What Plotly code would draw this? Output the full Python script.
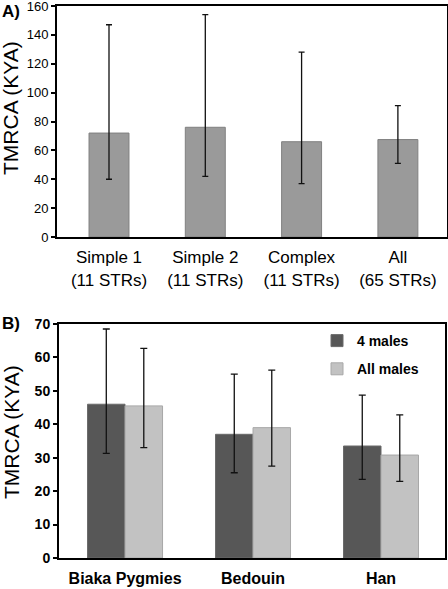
import plotly.graph_objects as go

# Panel A data
cats_a = ["Simple 1<br>(11 STRs)", "Simple 2<br>(11 STRs)", "Complex<br>(11 STRs)", "All<br>(65 STRs)"]
vals_a = [72, 76, 66, 67.5]
lo_a = [40, 42, 37, 51]
hi_a = [147, 154, 128, 91]

# Panel B data
cats_b = ["Biaka Pygmies", "Bedouin", "Han"]
four_males = [46, 37, 33.5]
four_lo = [31.3, 25.5, 23.5]
four_hi = [68.5, 55, 48.7]
all_males = [45.5, 39, 30.8]
all_lo = [33, 27.5, 22.9]
all_hi = [62.7, 56.2, 42.8]

W, H = 448, 589
def px(x):
    return x / W
def py(y):
    return 1 - y / H

FONT = "Liberation Sans, Arial, sans-serif"

fig = go.Figure()

fig.add_trace(go.Bar(
    x=cats_a, y=vals_a, width=0.415, showlegend=False,
    marker=dict(color="#9a9a9a", line=dict(color="#808080", width=1)),
    error_y=dict(type="data", symmetric=False,
                 array=[h - v for h, v in zip(hi_a, vals_a)],
                 arrayminus=[v - l for v, l in zip(vals_a, lo_a)],
                 color="#111111", thickness=1.3, width=3),
    xaxis="x", yaxis="y",
))

fig.add_trace(go.Bar(
    x=cats_b, y=four_males, name="4 males", legendgroup="a",
    marker=dict(color="#575757", line=dict(color="#6a6a6a", width=1)),
    error_y=dict(type="data", symmetric=False,
                 array=[h - v for h, v in zip(four_hi, four_males)],
                 arrayminus=[v - l for v, l in zip(four_males, four_lo)],
                 color="#111111", thickness=1.3, width=3.5),
    xaxis="x2", yaxis="y2",
))
fig.add_trace(go.Bar(
    x=cats_b, y=all_males, name="All males", legendgroup="b",
    marker=dict(color="#c2c2c2", line=dict(color="#a8a8a8", width=1)),
    error_y=dict(type="data", symmetric=False,
                 array=[h - v for h, v in zip(all_hi, all_males)],
                 arrayminus=[v - l for v, l in zip(all_males, all_lo)],
                 color="#111111", thickness=1.3, width=3.5),
    xaxis="x2", yaxis="y2",
))

axis_common = dict(showgrid=False, zeroline=False, showline=True, linecolor="black",
                   linewidth=2, mirror=True, automargin=False, ticklabeloverflow="allow")

fig.update_layout(
    width=W, height=H, margin=dict(l=0, r=0, t=0, b=0, autoexpand=False),
    paper_bgcolor="white", plot_bgcolor="white",
    barmode="group", bargap=0.414, bargroupgap=0,
    font=dict(family=FONT, color="black"),
    xaxis=dict(domain=[px(57), px(447)], anchor="y", range=[-0.54, 3.51], **axis_common,
               ticks="", ticklabelstandoff=4, tickfont=dict(size=17, family=FONT)),
    yaxis=dict(domain=[py(237), py(6)], anchor="x", range=[0, 160], dtick=20,
               **axis_common, ticks="outside", ticklen=4, tickwidth=1.5,
               tickcolor="black", tickfont=dict(size=13, family=FONT)),
    xaxis2=dict(domain=[px(59), px(445)], anchor="y2", range=[-0.516, 2.5], **axis_common,
                ticks="", ticklabelstandoff=5,
                tickfont=dict(size=16, family=FONT, weight="bold")),
    yaxis2=dict(domain=[py(558), py(324)], anchor="x2", range=[0, 70], dtick=10,
                **axis_common, ticks="outside", ticklen=4, tickwidth=1.5,
                tickcolor="black", tickfont=dict(size=14, family=FONT, weight="bold")),
    legend=dict(x=px(317), y=py(325), xanchor="left", yanchor="top",
                bgcolor="rgba(0,0,0,0)", traceorder="grouped", tracegroupgap=7,
                font=dict(size=14, family=FONT, weight="bold"),
                itemwidth=30),
    annotations=[
        dict(text="<b>A)</b>", x=0, y=py(12), xref="paper", yref="paper",
             xanchor="left", yanchor="middle", showarrow=False, font=dict(size=17)),
        dict(text="<b>B)</b>", x=0, y=py(323), xref="paper", yref="paper",
             xanchor="left", yanchor="middle", showarrow=False, font=dict(size=17)),
        dict(text="TMRCA (KYA)", x=px(11), y=py(108), xref="paper", yref="paper",
             xanchor="center", yanchor="middle", textangle=-90, showarrow=False,
             font=dict(size=21)),
        dict(text="TMRCA (KYA)", x=px(11), y=py(432), xref="paper", yref="paper",
             xanchor="center", yanchor="middle", textangle=-90, showarrow=False,
             font=dict(size=21)),
    ],
)

fig.write_html("out.html", config={"displayModeBar": False},
               post_script="document.body.style.margin='0';document.body.style.overflow='hidden';")
